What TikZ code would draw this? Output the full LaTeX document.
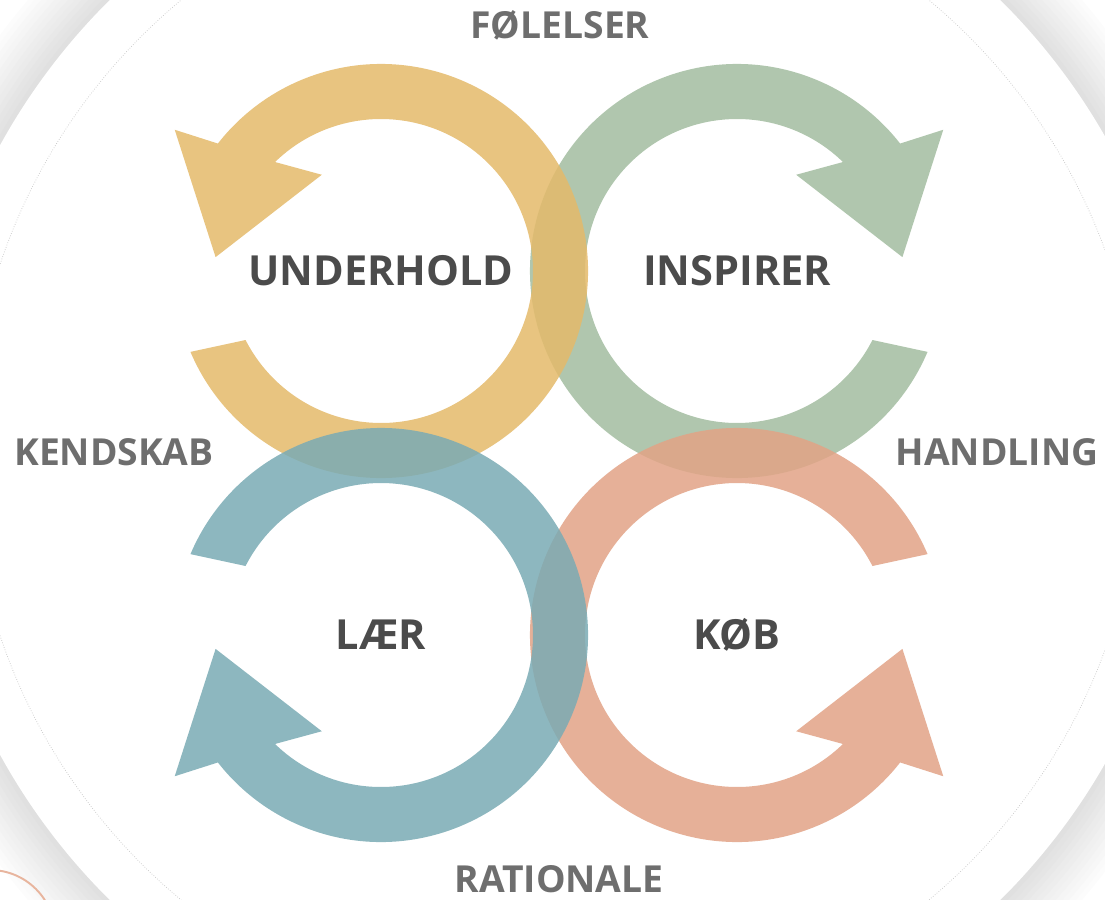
\documentclass[tikz,border=0pt]{standalone}
\usepackage{fontspec}
\setmainfont{Open Sans}
\definecolor{ringyellow}{HTML}{E4BA6A}
\definecolor{ringgreen}{HTML}{A3BDA0}
\definecolor{ringblue}{HTML}{7AABB4}
\definecolor{ringorange}{HTML}{E2A386}
\definecolor{phasetext}{HTML}{4B4B4B}
\definecolor{axistext}{HTML}{6E6E6E}
\begin{document}
\begin{tikzpicture}[x=0.02cm, y=0.02cm]
        \tikzset{ring/.style = {fill opacity=0.85},
          phase/.style = {font=\fontsize{23.6}{28}\selectfont\bfseries, text=phasetext},
          axis/.style = {font=\fontsize{21.2}{25}\selectfont\bfseries, text=axistext,
            inner sep=1pt},
          cyclearrow/.pic = {
            \path[pic actions] (203:207) arc[start angle=203, end angle=502, radius=207]
              -- (145.6:250) -- (175.2:166) -- (121.6:113) -- (134.2:152)
              arc[start angle=494.2, end angle=207, radius=152] -- cycle;
          }};
        \useasboundingbox (0,0) rectangle (1105,-899);
        \clip (0,0) rectangle (1105,-899);
        % backdrop disc with its shadow
        \coordinate (mid) at (555,-450);
        \foreach \r/\g in {693/1, 688/2, 683/3, 678/4, 673/5, 668/6, 663/7, 658/8,
          653/9, 648/10, 643/11, 638/12}
          \fill[black!\g] (mid) circle[radius=\r];
        \fill[white] (mid) circle[radius=633];
        \draw[black!22, densely dotted, line width=0.4pt] (mid) circle[radius=585];
        \draw[ringorange!80, line width=1.1pt] (-10,-935) circle[radius=65];
        % the four loops
        \coordinate (yc) at (381,-271);
        \coordinate (gc) at (737,-271);
        \coordinate (bc) at (381,-635);
        \coordinate (oc) at (737,-635);
        \pic[fill=ringgreen, ring, xscale=-1] at (gc) {cyclearrow};
        \pic[fill=ringorange, ring, scale=-1] at (oc) {cyclearrow};
        \pic[fill=ringyellow, ring] at (yc) {cyclearrow};
        \pic[fill=ringblue, ring, yscale=-1] at (bc) {cyclearrow};
        % labels
        \node[phase] (underhold) at (yc) {UNDERHOLD};
        \node[phase] (inspirer) at (gc) {INSPIRER};
        \node[phase] (laer) at (bc) {LÆR};
        \node[phase] (koeb) at (oc) {KØB};
        \node[axis] (foelelser) at (560,-25) {FØLELSER};
        \node[axis] (rationale) at (559,-879) {RATIONALE};
        \node[axis] (kendskab) at (114,-452) {KENDSKAB};
        \node[axis] (handling) at (997,-452) {HANDLING};
\end{tikzpicture}
\end{document}
